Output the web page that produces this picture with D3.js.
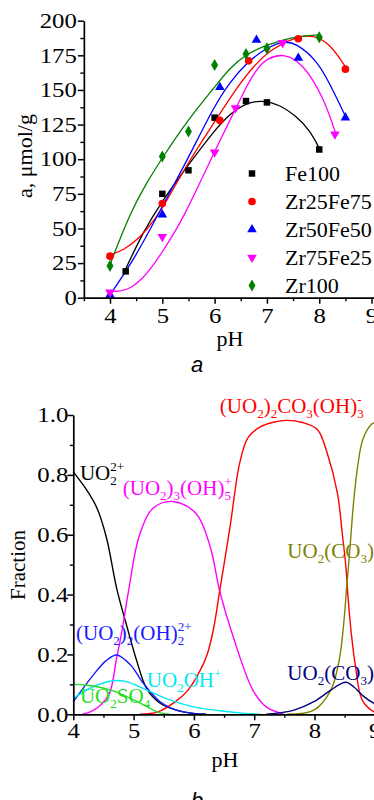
<!DOCTYPE html>
<html>
<head>
<meta charset="utf-8">
<script src="https://cdn.jsdelivr.net/npm/d3@7"></script>
<style>
  html, body { margin: 0; padding: 0; background: #fff; }
  svg { display: block; }
</style>
</head>
<body>
<svg id="chart" width="374" height="800"></svg>
<script>
const SERIF = '"Liberation Serif", "Times New Roman", serif'
const SANS = '"Liberation Sans", Arial, sans-serif'

// ---------- panel a: sorption capacity vs pH ----------
const sampleNames = ['Fe100', 'Zr25Fe75', 'Zr50Fe50', 'Zr75Fe25', 'Zr100']

// measured points [pH, a]
const fe100Points = [[4.3, 19], [5, 75], [5.5, 92], [6, 130], [6.6, 142], [7, 141], [8, 107]]
const zr25Points  = [[4, 30], [5, 68], [6.1, 128], [6.65, 171], [7.6, 187], [8.5, 165]]
const zr50Points  = [[4, 2], [5, 60], [6.1, 152], [6.8, 186], [7.6, 173], [8.5, 130]]
const zr75Points  = [[4, 4], [5, 44], [6, 105], [6.4, 137], [7.3, 184], [8.3, 118]]
const zr100Points = [[4, 23], [5, 102], [5.5, 120], [6, 168], [6.6, 176], [7, 180], [8, 188]]

// fitted curves
const fe100Fit = [[4.29, 20], [4.64, 48], [5.0, 70], [5.5, 96], [6.0, 121], [6.3, 133], [6.6, 140.5],
  [6.9, 142.7], [7.24, 139.5], [7.56, 131], [7.82, 121], [8.0, 108]]
const zr25Fit = [[4, 31], [4.25, 34], [4.57, 43], [4.89, 58], [5.1, 71], [5.5, 98], [6.0, 127], [6.36, 148],
  [6.67, 164], [7.05, 179], [7.56, 188.5], [7.89, 189.7], [8.2, 183.7], [8.52, 165.6]]
const zr50Fit = [[4, 2], [4.5, 30], [5, 66], [5.5, 101], [6, 139], [6.3, 156], [6.6, 169], [6.93, 179],
  [7.31, 185.6], [7.56, 183.7], [7.95, 171.6], [8.2, 154.8], [8.52, 129.5]]
const zr75Fit = [[4, 4.5], [4.2, 4.5], [4.4, 7], [4.6, 13], [4.8, 22], [5.0, 33], [5.2, 45], [5.4, 58],
  [5.72, 83], [6.04, 109], [6.36, 133], [6.6, 152], [6.8, 165], [7.0, 173], [7.34, 176.5], [7.69, 169],
  [8.08, 145], [8.32, 118]]
const zr100Fit = [[4, 24], [4.38, 61], [4.7, 83], [5.0, 101], [5.5, 129], [6.0, 152], [6.29, 166],
  [6.61, 176], [6.99, 182.5], [7.56, 189], [8.0, 189.7]]

const phTicks = [4, 5, 6, 7, 8, 9]
const aTicks = [0, 25, 50, 75, 100, 125, 150, 175, 200]

// ---------- panel b: uranyl speciation ----------
const uo2Curve      = [[4, 0.81], [4.22, 0.75], [4.39, 0.69], [4.55, 0.59], [4.72, 0.42], [4.88, 0.3],
  [5.05, 0.18], [5.22, 0.085], [5.44, 0.037], [5.71, 0.014], [6.0, 0.003], [6.2, 0]]
const uo2_3oh5Curve = [[4.15, 0], [4.3, 0.01], [4.45, 0.03], [4.6, 0.07], [4.72, 0.19], [4.8, 0.27],
  [4.91, 0.405], [5.1, 0.6], [5.33, 0.69], [5.66, 0.711], [6.04, 0.67], [6.27, 0.56], [6.43, 0.41],
  [6.65, 0.26], [6.98, 0.08], [7.2, 0.025], [7.5, 0]]
const uo2_2co3Curve = [[5.1, 0], [5.4, 0.008], [5.71, 0.045], [5.9, 0.08], [6.1, 0.145], [6.22, 0.2],
  [6.32, 0.28], [6.43, 0.415], [6.6, 0.627], [6.76, 0.84], [6.9, 0.925], [7.1, 0.96], [7.3, 0.975],
  [7.54, 0.982], [7.8, 0.975], [8.05, 0.951], [8.21, 0.873], [8.38, 0.739], [8.46, 0.605], [8.52, 0.494],
  [8.56, 0.382], [8.61, 0.271], [8.68, 0.159], [8.79, 0.048], [8.98, 0.009], [9.2, 0]]
const uo2co3_3Curve = [[7.55, 0], [7.99, 0.014], [8.27, 0.081], [8.41, 0.182], [8.49, 0.315], [8.53, 0.416],
  [8.59, 0.56], [8.64, 0.69], [8.71, 0.82], [8.8, 0.917], [8.94, 0.968], [9.0, 0.975], [9.2, 0.99]]
const uo2co3_2Curve = [[7.2, 0], [7.66, 0.014], [7.99, 0.042], [8.27, 0.081], [8.46, 0.104], [8.53, 0.107],
  [8.65, 0.092], [8.82, 0.059], [8.98, 0.037], [9.2, 0.015]]
const uo2_2oh2Curve = [[4, 0.042], [4.33, 0.131], [4.55, 0.18], [4.72, 0.198], [4.95, 0.165], [5.16, 0.104],
  [5.44, 0.042], [5.71, 0.014], [6.0, 0.002], [6.2, 0]]
const uo2ohCurve    = [[4, 0.053], [4.33, 0.092], [4.66, 0.112], [4.88, 0.109], [5.22, 0.081], [5.6, 0.048],
  [5.99, 0.025], [6.43, 0.012], [6.8, 0.004], [7.1, 0]]
const uo2so4Curve   = [[4, 0.1], [4.2, 0.098], [4.4, 0.092], [4.66, 0.078], [5.0, 0.048], [5.27, 0.02],
  [5.44, 0.005], [5.6, 0]]

const fractionTicks = [0, 0.2, 0.4, 0.6, 0.8, 1.0]

const svg = d3.select('#chart')

// tick numbers in the picture run wider than Times; stretch them a bit
const WIDE = 1.18

// draws major + minor ticks in the Origin look
const drawAxis = (g, axisFn, scale, major, minor, fmt, pad) => {
  g.call(axisFn(scale).tickValues(major).tickSize(6).tickPadding(pad).tickSizeOuter(0).tickFormat(fmt))
  g.attr('font-family', SERIF).attr('font-size', 21)
  g.select('.domain').attr('stroke', '#000').attr('stroke-width', 1.7)
  g.selectAll('.tick line').attr('stroke', '#000').attr('stroke-width', 1.5)
  g.selectAll('.tick text')
    .attr('fill', '#000')
    .attr('x', function () { return +d3.select(this).attr('x') / WIDE })
    .attr('transform', `scale(${WIDE},1)`)
  g.append('g')
    .call(axisFn(scale).tickValues(minor).tickSize(3.5).tickFormat('').tickSizeOuter(0))
    .call(m => m.select('.domain').remove())
    .selectAll('.tick line').attr('stroke', '#000').attr('stroke-width', 1.4)
}

// ================= panel a =================
const xA = d3.scaleLinear().domain([3.5, 9.5]).range([83.85, 397.7])
const yA = d3.scaleLinear().domain([0, 200]).range([297.7, 20.7])

const panelA = [
  { name: sampleNames[0], pts: fe100Points, fit: fe100Fit, color: '#000000', symbol: d3.symbolSquare, size: 42, rot: 0 },
  { name: sampleNames[1], pts: zr25Points, fit: zr25Fit, color: '#ff0000', symbol: d3.symbolCircle, size: 46, rot: 0 },
  { name: sampleNames[2], pts: zr50Points, fit: zr50Fit, color: '#0000ff', symbol: d3.symbolTriangle, size: 40, rot: 0 },
  { name: sampleNames[3], pts: zr75Points, fit: zr75Fit, color: '#ff00ff', symbol: d3.symbolTriangle, size: 40, rot: 180 },
  { name: sampleNames[4], pts: zr100Points, fit: zr100Fit, color: '#008000', symbol: d3.symbolDiamond, size: 42, rot: 0 }
]

const gA = svg.append('g')

const lineA = d3.line()
  .x(d => xA(d[0]))
  .y(d => yA(d[1]))
  .curve(d3.curveBasis)

gA.selectAll('path.fit')
  .data(panelA)
  .enter()
  .append('path')
    .attr('class', 'fit')
    .attr('d', d => lineA(d.fit))
    .attr('fill', 'none')
    .attr('stroke', d => d.color)
    .attr('stroke-width', 1.3)

panelA.forEach(s => {
  gA.append('g')
    .selectAll('path')
    .data(s.pts)
    .enter()
    .append('path')
      .attr('d', d3.symbol().type(s.symbol).size(s.size))
      .attr('transform', d => `translate(${xA(d[0])},${yA(d[1])}) rotate(${s.rot})`)
      .attr('fill', s.color)
})

drawAxis(gA.append('g').attr('transform', `translate(0,${yA(0)})`),
  d3.axisBottom, xA, phTicks, [3.5, 4.5, 5.5, 6.5, 7.5, 8.5], d3.format('d'), 4)
drawAxis(gA.append('g').attr('transform', `translate(${xA(3.5)},0)`),
  d3.axisLeft, yA, aTicks, d3.range(12.5, 200, 25), d3.format('d'), 1)

// legend
const legend = gA.append('g')
panelA.forEach((s, i) => {
  const ly = 173.5 + i * 28
  legend.append('path')
    .attr('d', d3.symbol().type(s.symbol).size(s.size))
    .attr('transform', `translate(252,${ly}) rotate(${s.rot})`)
    .attr('fill', s.color)
  legend.append('text')
    .attr('x', 285)
    .attr('y', ly + 7.5)
    .attr('font-family', SERIF)
    .attr('font-size', 22)
    .text(s.name)
})

gA.append('text')
  .attr('transform', 'translate(32,156) rotate(-90)')
  .attr('text-anchor', 'middle')
  .attr('font-family', SERIF)
  .attr('font-size', 22)
  .text('a, μmol/g')

gA.append('text')
  .attr('x', 230).attr('y', 346)
  .attr('text-anchor', 'middle')
  .attr('font-family', SERIF)
  .attr('font-size', 22)
  .text('pH')

gA.append('text')
  .attr('x', 197).attr('y', 372)
  .attr('text-anchor', 'middle')
  .attr('font-family', SANS)
  .attr('font-style', 'italic')
  .attr('font-size', 22)
  .text('a')

// ================= panel b =================
const xB = d3.scaleLinear().domain([4, 9.5]).range([73.3, 73.3 + 5.5 * 60.3])
const yB = d3.scaleLinear().domain([0, 1]).range([714.3, 415])

// label parts: plain string, {sub}, {sup}, or {sub, sup} stacked
const panelB = [
  { values: uo2Curve, color: '#000000', at: [4.11, 0.784],
    label: ['UO', { sub: '2', sup: '2+' }] },
  { values: uo2_3oh5Curve, color: '#ff00ff', at: [4.82, 0.734],
    label: ['(UO', { sub: '2' }, ')', { sub: '3' }, '(OH)', { sub: '5', sup: '+' }] },
  { values: uo2_2co3Curve, color: '#ff0000', at: [6.43, 1.008],
    label: ['(UO', { sub: '2' }, ')', { sub: '2' }, 'CO', { sub: '3' }, '(OH)', { sub: '3', sup: '-' }] },
  { values: uo2co3_3Curve, color: '#808000', at: [7.55, 0.523],
    label: ['UO', { sub: '2' }, '(CO', { sub: '3' }, ')', { sub: '3', sup: '4-' }] },
  { values: uo2co3_2Curve, color: '#000080', at: [7.55, 0.115],
    label: ['UO', { sub: '2' }, '(CO', { sub: '3' }, ')', { sub: '2', sup: '2-' }] },
  { values: uo2_2oh2Curve, color: '#1a1aff', at: [4.045, 0.248],
    label: ['(UO', { sub: '2' }, ')', { sub: '2' }, '(OH)', { sub: '2', sup: '2+' }] },
  { values: uo2ohCurve, color: '#00e8f0', at: [5.22, 0.091],
    label: ['UO', { sub: '2' }, 'OH', { sup: '+' }] },
  { values: uo2so4Curve, color: '#22dd22', at: [4.11, 0.038],
    label: ['UO', { sub: '2' }, 'SO', { sub: '4' }] }
]

const gB = svg.append('g')

const lineB = d3.line()
  .x(d => xB(d[0]))
  .y(d => yB(Math.max(0, d[1])))
  .curve(d3.curveCatmullRom.alpha(0.5))

gB.selectAll('path.species')
  .data(panelB)
  .enter()
  .append('path')
    .attr('class', 'species')
    .attr('d', d => lineB(d.values))
    .attr('fill', 'none')
    .attr('stroke', d => d.color)
    .attr('stroke-width', 1.4)

drawAxis(gB.append('g').attr('transform', `translate(0,${yB(0)})`),
  d3.axisBottom, xB, phTicks, [4.5, 5.5, 6.5, 7.5, 8.5, 9.5], d3.format('d'), 3)
drawAxis(gB.append('g').attr('transform', `translate(${xB(4)},0)`),
  d3.axisLeft, yB, fractionTicks, [0.1, 0.3, 0.5, 0.7, 0.9], d3.format('.1f'), -1)

// chemical formula labels
const SMALL = 13
const chemLabel = (g, x, y, parts, color) => {
  const t = g.append('text')
    .attr('x', x).attr('y', y)
    .attr('fill', color)
    .attr('font-family', SERIF)
    .attr('font-size', 21)
  parts.forEach(p => {
    if (typeof p === 'string') {
      t.append('tspan').attr('y', y).text(p)
      return
    }
    if (p.sub) {
      t.append('tspan').attr('y', y + 5).attr('font-size', SMALL).text(p.sub)
    }
    if (p.sup) {
      const back = p.sub ? -SMALL * 0.5 * p.sub.length : 0
      t.append('tspan').attr('y', y - 9).attr('dx', back).attr('font-size', SMALL).text(p.sup)
    }
  })
}

panelB.forEach(s => chemLabel(gB, xB(s.at[0]), yB(s.at[1]), s.label, s.color))

gB.append('text')
  .attr('transform', 'translate(25,565) rotate(-90)')
  .attr('text-anchor', 'middle')
  .attr('font-family', SERIF)
  .attr('font-size', 21)
  .text('Fraction')

gB.append('text')
  .attr('x', 225).attr('y', 767)
  .attr('text-anchor', 'middle')
  .attr('font-family', SERIF)
  .attr('font-size', 22)
  .text('pH')

gB.append('text')
  .attr('x', 197).attr('y', 808)
  .attr('text-anchor', 'middle')
  .attr('font-family', SANS)
  .attr('font-style', 'italic')
  .attr('font-size', 22)
  .text('b')
</script>
</body>
</html>
